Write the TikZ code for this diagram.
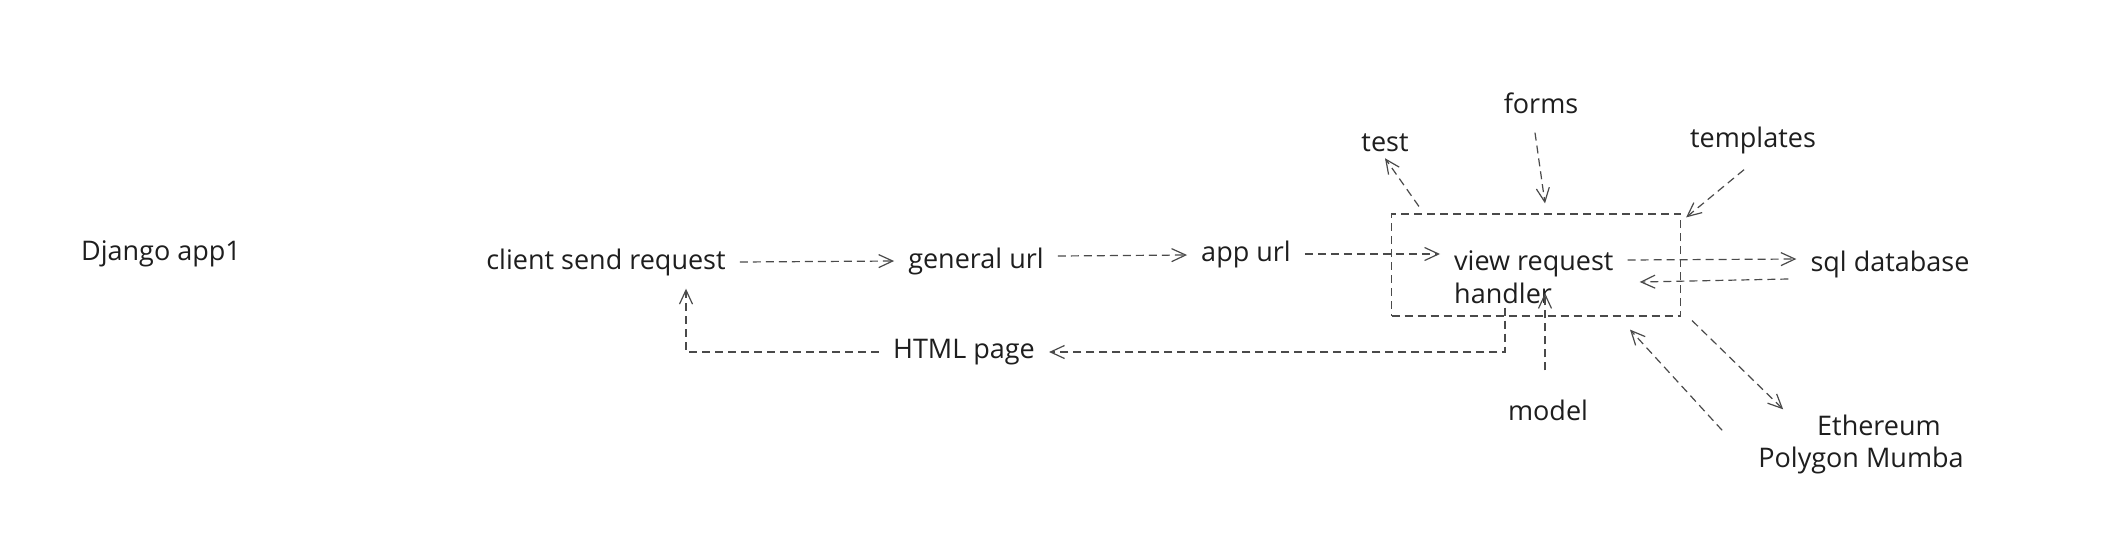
\documentclass[tikz,border=0pt]{standalone}
\usepackage{fontspec}
\setmainfont{Open Sans}
\usetikzlibrary{arrows.meta}
\definecolor{ink}{HTML}{1E1E1E}
\definecolor{linec}{HTML}{4A4A4A}
\begin{document}
\begin{tikzpicture}[x=1pt,y=-1pt,
  lbl/.style={font=\fontsize{27}{33}\selectfont, text=ink, inner xsep=14pt, inner ysep=6pt},
  dline/.style={draw=linec, line width=1.2pt, dash pattern=on 8pt off 5pt},
  arr/.style={dline, -{Straight Barb[length=14pt,width=13pt]}}]
\useasboundingbox (0,0) rectangle (2128,542);
\fill[white] (0,0) rectangle (2128,542);
% nodes
\node[lbl] (django) at (161,254) {Django app1};
\node[lbl] (client) at (606,262) {client send request};
\node[lbl] (general) at (976,261) {general url};
\node[lbl] (appurl) at (1246,254) {app url};
\node[dline, minimum width=289pt, minimum height=102pt, inner sep=0pt] (box) at (1536,265) {};
\node[lbl, align=left, anchor=west] (view) at (1440,277) {view request\\handler};
\node[lbl] (sql) at (1890,264) {sql database};
\node[lbl] (html) at (964,352) {HTML page};
\node[lbl] (test) at (1385,143) {test};
\node[lbl] (forms) at (1541,103) {forms};
\node[lbl] (templates) at (1753,140) {templates};
\node[lbl] (model) at (1548,410) {model};
\node[lbl, align=center, font=\fontsize{27}{32}\selectfont] (eth) at (1861,444) {\hspace*{36pt}Ethereum\\Polygon Mumba};
% connectors
\draw[arr] (client.east) -- (general.west);
\draw[arr] ([yshift=5pt]general.east) -- ([yshift=-1pt]appurl.west);
\draw[arr] (appurl.east) -- (appurl.east -| view.west);
\draw[arr] ([yshift=17pt]view.east) -- ([yshift=5pt]sql.west);
\draw[arr] ([xshift=-8pt,yshift=-15pt]sql.west) -- ([xshift=12pt,yshift=-5pt]view.east);
\draw[arr] ([xshift=28pt,yshift=7pt]box.north west) -- (test.south);
\draw[arr] ([xshift=-6pt,yshift=-13pt]forms.south) -- ([xshift=9pt,yshift=10pt]box.north);
\draw[arr] ([xshift=-9pt,yshift=-10pt]templates.south) -- ([xshift=5pt,yshift=-4pt]box.north east);
\draw[arr] ([xshift=-3pt,yshift=23pt]model.north) -- ([xshift=9pt,yshift=-28pt]box.center);
\draw[arr] ([xshift=-31pt,yshift=9pt]box.south) |- (html.east);
\draw[arr] (html.west) -| ([xshift=80pt,yshift=-7pt]client.south);
\draw[arr] ([xshift=-22pt,yshift=-22pt]eth.north west) -- ([xshift=94pt,yshift=-13pt]box.south);
\draw[arr] ([xshift=11pt,yshift=-4pt]box.south east) -- ([xshift=39pt,yshift=-1pt]eth.north west);
\end{tikzpicture}
\end{document}
